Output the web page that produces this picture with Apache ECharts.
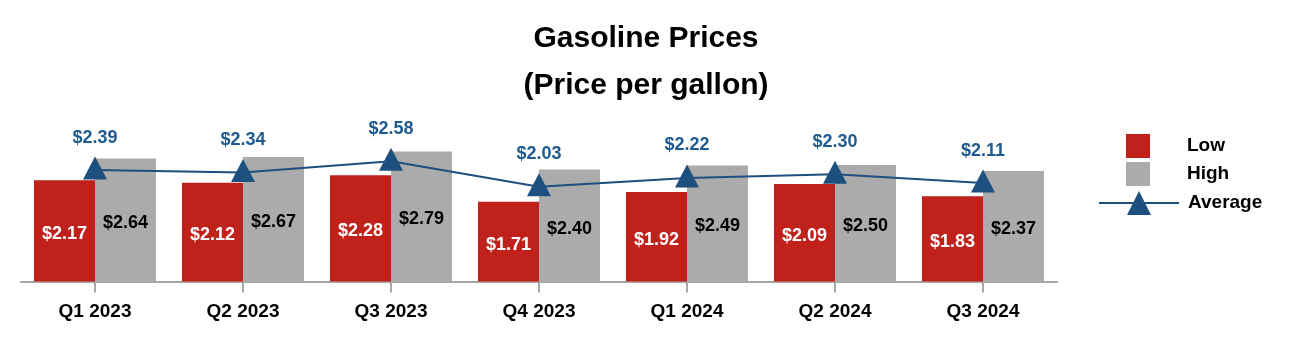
<!DOCTYPE html>
<html>
<head>
<meta charset="utf-8">
<script src="https://cdn.jsdelivr.net/npm/echarts@6/dist/echarts.min.js"></script>
<style>
  html, body { margin: 0; padding: 0; background: #ffffff; }
  #chart { width: 1300px; height: 344px; }
</style>
</head>
<body>
<div id="chart"></div>
<script>
// Quarterly gasoline prices, dollars per gallon
const quarters = ['Q1 2023', 'Q2 2023', 'Q3 2023', 'Q4 2023', 'Q1 2024', 'Q2 2024', 'Q3 2024'];
const lowPrices = [2.17, 2.12, 2.28, 1.71, 1.92, 2.09, 1.83];
const highPrices = [2.64, 2.67, 2.79, 2.40, 2.49, 2.50, 2.37];
const averagePrices = [2.39, 2.34, 2.58, 2.03, 2.22, 2.30, 2.11];

const FONT = "'Liberation Sans', Arial, sans-serif";
const RED = '#C0211A';
const GRAY = '#ABABAB';
const BLUE = '#1D4F7F';
const AXIS_GRAY = '#A6A6A6';

const money = v => '$' + Number(v).toFixed(2);

const chart = echarts.init(document.getElementById('chart'), null, { renderer: 'canvas' });

chart.setOption({
  animation: false,
  backgroundColor: '#ffffff',
  title: {
    text: 'Gasoline Prices\n(Price per gallon)',
    left: 641,
    textAlign: 'center',
    top: 10,
    textStyle: {
      fontFamily: FONT,
      fontSize: 30,
      fontWeight: 'bold',
      color: '#000000',
      lineHeight: 47
    }
  },
  legend: [
    {
      data: [
        { name: 'Low', icon: 'rect' },
        { name: 'High', icon: 'rect' }
      ],
      orient: 'vertical',
      left: 1126,
      top: 134,
      padding: 0,
      itemWidth: 24,
      itemHeight: 24,
      itemGap: 4,
      selectedMode: false,
      textStyle: {
        fontFamily: FONT,
        fontSize: 19,
        fontWeight: 'bold',
        color: '#000000',
        padding: [3, 0, 0, 32]
      }
    },
    {
      data: ['Average'],
      orient: 'vertical',
      left: 1098,
      top: 191,
      padding: 0,
      itemWidth: 80,
      itemHeight: 30,
      selectedMode: false,
      textStyle: {
        fontFamily: FONT,
        fontSize: 19,
        fontWeight: 'bold',
        color: '#000000',
        padding: [0, 0, 0, 4]
      }
    }
  ],
  grid: {
    left: 21,
    right: 243,
    top: 95,
    bottom: 62.5,
    containLabel: false
  },
  xAxis: {
    type: 'category',
    data: quarters,
    axisLine: { show: true, lineStyle: { color: AXIS_GRAY, width: 2 } },
    axisTick: { show: true, alignWithLabel: true, length: 11, lineStyle: { color: AXIS_GRAY, width: 2 } },
    axisLabel: {
      margin: 21,
      fontFamily: FONT,
      fontSize: 19,
      fontWeight: 'bold',
      color: '#000000'
    },
    splitLine: { show: false }
  },
  yAxis: {
    type: 'value',
    min: 0,
    max: 4,
    show: false,
    splitLine: { show: false }
  },
  series: [
    {
      name: 'Low',
      type: 'bar',
      data: lowPrices,
      barWidth: 61,
      barGap: '0%',
      itemStyle: { color: RED },
      label: {
        show: true,
        position: 'inside',
        offset: [0, 3],
        formatter: p => money(p.value),
        fontFamily: FONT,
        fontSize: 18,
        fontWeight: 'bold',
        color: '#ffffff'
      }
    },
    {
      name: 'High',
      type: 'bar',
      data: highPrices,
      barWidth: 61,
      barGap: '0%',
      itemStyle: { color: GRAY },
      label: {
        show: true,
        position: 'inside',
        offset: [0, 3],
        formatter: p => money(p.value),
        fontFamily: FONT,
        fontSize: 18,
        fontWeight: 'bold',
        color: '#000000'
      }
    },
    {
      name: 'Average',
      type: 'line',
      data: averagePrices,
      z: 5,
      symbol: 'triangle',
      symbolSize: [24, 23],
      symbolOffset: [0, -2],
      lineStyle: { color: BLUE, width: 2 },
      itemStyle: { color: BLUE },
      label: {
        show: true,
        position: 'top',
        distance: 10,
        formatter: p => money(p.value),
        fontFamily: FONT,
        fontSize: 18,
        fontWeight: 'bold',
        color: '#1F5A8E'
      }
    }
  ]
});
</script>
</body>
</html>
